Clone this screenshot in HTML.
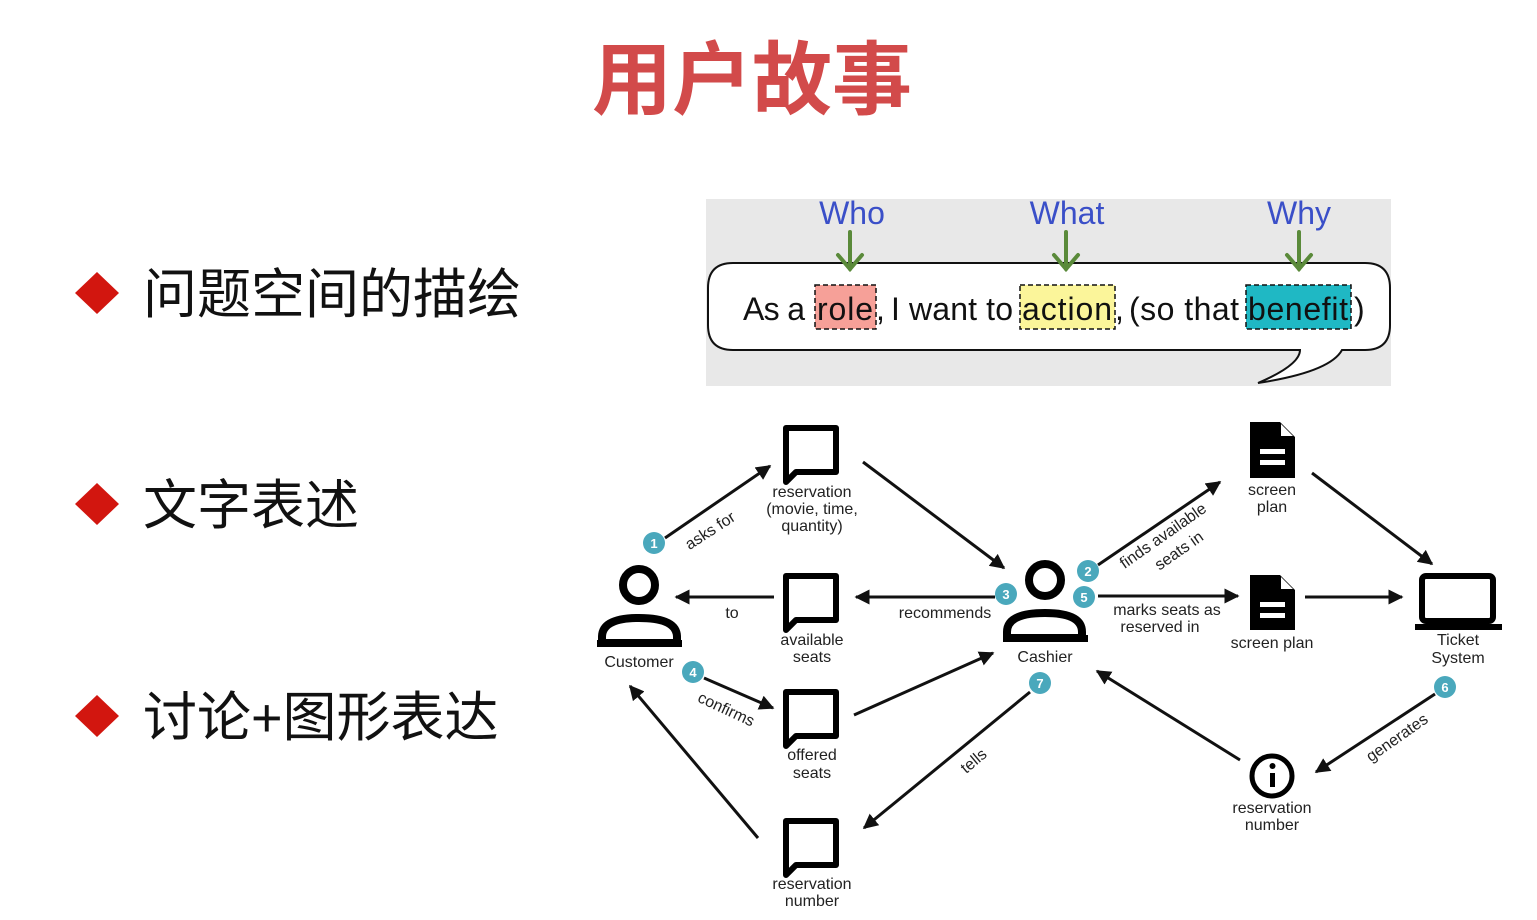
<!DOCTYPE html>
<html><head><meta charset="utf-8"><style>
html,body{margin:0;padding:0;background:#fff;}
svg{display:block}
.h{font-family:"Liberation Sans","DejaVu Sans",sans-serif;font-size:16px;fill:#222;text-anchor:middle}
.b{fill:#4aa8bc}
.bt{font-family:"Liberation Sans",sans-serif;font-size:13px;fill:#fff;text-anchor:middle;font-weight:bold}
</style></head><body>
<svg width="1537" height="920" viewBox="0 0 1537 920" xmlns="http://www.w3.org/2000/svg">
<defs>
<marker id="a" viewBox="0 0 10 10" refX="9" refY="5" markerWidth="5" markerHeight="5" orient="auto"><path d="M0,0L10,5L0,10z" fill="#111"/></marker>
</defs>
<text x="752" y="108" font-family="'Liberation Sans','Noto Sans CJK SC',sans-serif" font-size="80" font-weight="bold" fill="#d24a4a" text-anchor="middle">用户故事</text>
<g font-family="'Liberation Sans','Noto Sans CJK SC',sans-serif" font-size="54" fill="#111">
<path d="M97,272L119,293L97,314L75,293z" fill="#d2160f"/><text x="143" y="313">问题空间的描绘</text>
<path d="M97,483L119,504L97,525L75,504z" fill="#d2160f"/><text x="143" y="524">文字表述</text>
<path d="M97,695L119,716L97,737L75,716z" fill="#d2160f"/><text x="143" y="736">讨论+图形表达</text>
</g>
<rect x="706" y="199" width="685" height="187" fill="#e8e8e8"/>
<path d="M733,263H1365Q1390,263 1390,288V325Q1390,350 1365,350H1342Q1330,372 1258,383Q1300,365 1300,350H733Q708,350 708,325V288Q708,263 733,263z" fill="#fff" stroke="#111" stroke-width="2"/>
<g font-family="'Liberation Sans',sans-serif" font-size="32" fill="#3a4fc8" text-anchor="middle">
<text x="852" y="224">Who</text><text x="1067" y="224">What</text><text x="1299" y="224">Why</text></g>
<g stroke="#5a8a3a" stroke-width="4" fill="none" stroke-linecap="round">
<line x1="850" y1="232" x2="850" y2="269"/><path d="M838,255L850,269L862,255"/>
<line x1="1066" y1="232" x2="1066" y2="269"/><path d="M1054,255L1066,269L1078,255"/>
<line x1="1299" y1="232" x2="1299" y2="269"/><path d="M1287,255L1299,269L1311,255"/></g>
<g stroke="#111" stroke-width="1.5" stroke-dasharray="5,3">
<rect x="815" y="285" width="61" height="44" fill="#f6a098"/>
<rect x="1020" y="285" width="95" height="44" fill="#fbf59a"/>
<rect x="1246" y="285" width="105" height="44" fill="#1fb8c4"/></g>
<g font-family="'Liberation Sans',sans-serif" font-size="32" fill="#111">
<text x="743" y="320" textLength="62">As a</text><text x="817" y="320" textLength="56">role</text><text x="876" y="320">,</text>
<text x="891" y="320" textLength="122">I want to</text><text x="1022" y="320" textLength="90">action</text><text x="1115" y="320">,</text>
<text x="1129" y="320" textLength="110">(so that</text><text x="1248" y="320" textLength="100">benefit</text><text x="1354" y="320">)</text></g>
<!-- persons -->
<g fill="none" stroke="#000" stroke-width="8">
<circle cx="639" cy="585" r="16"/><path d="M602,643V637Q602,618 639,618Q677,618 677,637V643z"/>
<circle cx="1045" cy="580" r="16"/><path d="M1007,638V632Q1007,613 1045,613Q1082,613 1082,632V638z"/>
</g>
<rect x="597" y="640" width="85" height="7" fill="#000"/><rect x="1003" y="635" width="85" height="7" fill="#000"/>
<!-- bubbles -->
<g fill="none" stroke="#000" stroke-width="6" stroke-linejoin="round">
<path d="M786,428H836V472H796L786,482z"/>
<path d="M786,576H836V620H796L786,630z"/>
<path d="M786,692H836V736H796L786,746z"/>
<path d="M786,821H836V865H796L786,875z"/>
<circle cx="1272" cy="776" r="20" stroke-width="5"/>
</g>
<rect x="1270" y="773" width="5" height="14" fill="#000"/><circle cx="1272.5" cy="766" r="3" fill="#000"/>
<!-- docs -->
<g fill="#000"><path d="M1250,422H1280L1295,437V478H1250z"/><path d="M1250,575H1280L1295,590V630H1250z"/></g>
<g fill="#fff"><path d="M1281,424L1293,436H1281z"/><rect x="1260" y="449" width="25" height="5"/><rect x="1260" y="460" width="25" height="5"/>
<path d="M1281,577L1293,589H1281z"/><rect x="1260" y="602" width="25" height="5"/><rect x="1260" y="613" width="25" height="5"/></g>
<rect x="1422" y="576" width="71" height="45" rx="4" fill="none" stroke="#000" stroke-width="6"/>
<rect x="1415" y="624" width="87" height="6" fill="#000"/>
<!-- labels -->
<g class="h">
<text x="639" y="667">Customer</text><text x="1045" y="662">Cashier</text>
<text x="812" y="497">reservation</text><text x="812" y="514">(movie, time,</text><text x="812" y="531">quantity)</text>
<text x="812" y="645">available</text><text x="812" y="662">seats</text>
<text x="812" y="760">offered</text><text x="812" y="778">seats</text>
<text x="812" y="889">reservation</text><text x="812" y="906">number</text>
<text x="1272" y="495">screen</text><text x="1272" y="512">plan</text>
<text x="1272" y="648">screen plan</text>
<text x="1458" y="645">Ticket</text><text x="1458" y="663">System</text>
<text x="1272" y="813">reservation</text><text x="1272" y="830">number</text>
<text x="945" y="618">recommends</text><text x="732" y="618">to</text>
<text x="1167" y="615">marks seats as</text><text x="1160" y="632">reserved  in</text>
<text transform="translate(713,535) rotate(-33)">asks for</text>
<text transform="translate(724,714) rotate(25)">confirms</text>
<text transform="translate(977,765) rotate(-40)">tells</text>
<text transform="translate(1166,540) rotate(-35)">finds available</text>
<text transform="translate(1182,555) rotate(-35)">seats in</text>
<text transform="translate(1400,742) rotate(-35)">generates</text>
</g>
<!-- arrows -->
<g stroke="#111" stroke-width="3" marker-end="url(#a)">
<line x1="665" y1="538" x2="770" y2="466"/>
<line x1="863" y1="462" x2="1004" y2="568"/>
<line x1="995" y1="597" x2="856" y2="597"/>
<line x1="774" y1="597" x2="676" y2="597"/>
<line x1="704" y1="678" x2="773" y2="708"/>
<line x1="854" y1="715" x2="993" y2="653"/>
<line x1="1030" y1="692" x2="864" y2="828"/>
<line x1="758" y1="838" x2="630" y2="686"/>
<line x1="1098" y1="565" x2="1220" y2="482"/>
<line x1="1098" y1="596" x2="1238" y2="596"/>
<line x1="1312" y1="473" x2="1432" y2="564"/>
<line x1="1305" y1="597" x2="1402" y2="597"/>
<line x1="1435" y1="694" x2="1316" y2="772"/>
<line x1="1240" y1="760" x2="1097" y2="671"/>
</g>
<!-- badges -->
<g>
<circle class="b" cx="654" cy="543" r="11"/><text class="bt" x="654" y="548">1</text>
<circle class="b" cx="1088" cy="571" r="11"/><text class="bt" x="1088" y="576">2</text>
<circle class="b" cx="1006" cy="594" r="11"/><text class="bt" x="1006" y="599">3</text>
<circle class="b" cx="693" cy="672" r="11"/><text class="bt" x="693" y="677">4</text>
<circle class="b" cx="1084" cy="597" r="11"/><text class="bt" x="1084" y="602">5</text>
<circle class="b" cx="1445" cy="687" r="11"/><text class="bt" x="1445" y="692">6</text>
<circle class="b" cx="1040" cy="683" r="11"/><text class="bt" x="1040" y="688">7</text>
</g>
</svg>
</body></html>
